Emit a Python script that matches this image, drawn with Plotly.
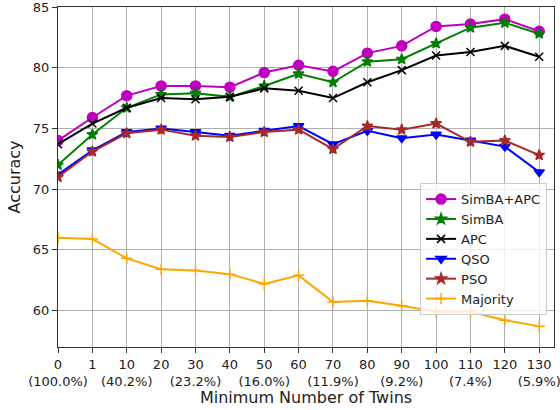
import plotly.graph_objects as go

twins = ["0", "1", "10", "20", "30", "40", "50", "60", "70", "80", "90", "100", "110", "120", "130"]
pct = ["(100.0%)", "", "(40.2%)", "", "(23.2%)", "", "(16.0%)", "", "(11.9%)", "", "(9.2%)", "", "(7.4%)", "", "(5.9%)"]

simba_apc = [74.0, 75.9, 77.7, 78.5, 78.5, 78.4, 79.6, 80.2, 79.7, 81.2, 81.8, 83.4, 83.6, 84.0, 83.0]
simba = [72.0, 74.5, 76.7, 77.8, 77.9, 77.6, 78.5, 79.5, 78.8, 80.5, 80.7, 82.0, 83.3, 83.7, 82.8]
apc = [73.7, 75.4, 76.7, 77.5, 77.4, 77.6, 78.3, 78.1, 77.5, 78.8, 79.8, 81.0, 81.3, 81.8, 80.9]
qso = [71.2, 73.2, 74.7, 75.0, 74.7, 74.4, 74.8, 75.2, 73.7, 74.8, 74.2, 74.5, 74.0, 73.5, 71.4]
pso = [71.0, 73.1, 74.6, 74.9, 74.4, 74.3, 74.7, 74.9, 73.3, 75.2, 74.9, 75.4, 73.9, 74.0, 72.8]
majority = [66.0, 65.9, 64.3, 63.4, 63.3, 63.0, 62.2, 62.9, 60.7, 60.8, 60.4, 59.9, 59.9, 59.2, 58.7]

idx = list(range(len(twins)))
ticktext = [t + ("<br>" + p if p else "") for t, p in zip(twins, pct)]

series = [
    ("SimBA+APC", simba_apc, "#bf00bf", "circle", 10),
    ("SimBA", simba, "#008000", "star", 8),
    ("APC", apc, "#000000", "x-thin", 8),
    ("QSO", qso, "#0000ff", "triangle-down", 9),
    ("PSO", pso, "#a52a2a", "star", 8),
    ("Majority", majority, "#ffa500", "cross-thin", 8),
]

fig = go.Figure()
for name, vals, col, sym, sz in series:
    fig.add_trace(go.Scatter(
        x=idx, y=vals, name=name, mode="lines+markers",
        line=dict(color=col, width=2),
        marker=dict(symbol=sym, size=sz, color=col, line=dict(color=col, width=1.5)),
    ))

axis_common = dict(
    showline=True, linecolor="#333333", linewidth=1, mirror=True,
    showgrid=True, gridcolor="#b0b0b0", gridwidth=1,
    ticks="outside", ticklen=5, tickcolor="#333333",
    tickfont=dict(size=13, color="#222222"), zeroline=False,
    automargin=False, ticklabeloverflow="allow",
)

fig.update_layout(
    width=560, height=410,
    margin=dict(l=58, r=6, t=7, b=63),
    paper_bgcolor="white", plot_bgcolor="white",
    font=dict(family="DejaVu Sans", color="#222222"),
    xaxis=dict(range=[0, 14.43], tickvals=idx, ticktext=ticktext, tickangle=0,
               title=dict(text="Minimum Number of Twins", font=dict(size=16), standoff=4),
               **axis_common),
    yaxis=dict(range=[57, 85], tickvals=[60, 65, 70, 75, 80, 85],
               title=dict(text="Accuracy", font=dict(size=16), standoff=8),
               **axis_common),
    legend=dict(x=0.73, y=0.482, xanchor="left", yanchor="top",
                bgcolor="rgba(255,255,255,0.8)", bordercolor="#cccccc", borderwidth=1,
                font=dict(size=13), tracegroupgap=0),
    showlegend=True,
)

fig.write_html("out.html", config={"displayModeBar": False},
               post_script="document.body.style.margin='0';")
